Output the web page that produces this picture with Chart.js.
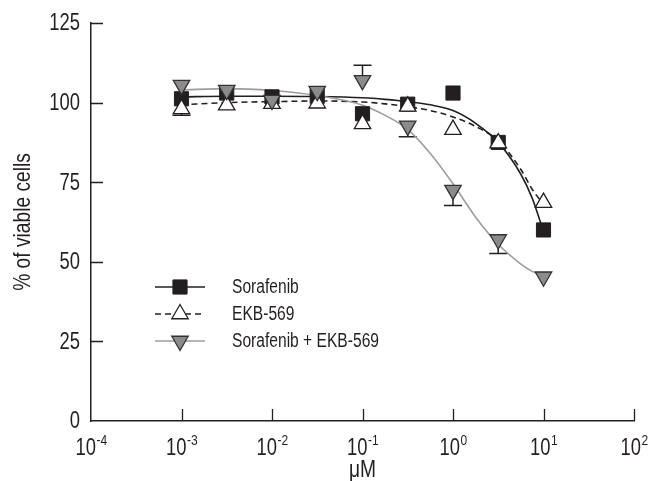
<!DOCTYPE html>
<html>
<head>
<meta charset="utf-8">
<script src="https://cdn.jsdelivr.net/npm/chart.js@4.4.0/dist/chart.umd.min.js"></script>
<style>
  html, body { margin: 0; padding: 0; background: #fff; }
  #wrap { width: 651px; height: 481px; }
</style>
</head>
<body>
<div id="wrap"><canvas id="viability" width="651" height="481"></canvas></div>
<script>
// no narrow font installed, so Liberation Sans is squeezed horizontally
const FONT = "'Liberation Sans', Arial, sans-serif";
const SQUEEZE = 0.8;
const INK = '#231f20';

// measured points (uM vs % viable)
const concentrations = [0.001, 0.00316, 0.01, 0.0316, 0.1, 0.316, 1, 3.16, 10];
const sorafenib = [101.2, 103, 101.8, 102, 96.5, 99.5, 103, 87.5, 60];
const ekb569 = [98, 99.2, 99.7, 99.8, 93.3, 98.8, 91.5, 87.3, 68.6];
const combined = [105.5, 103.9, 100.8, 103.6, 107, 92.7, 72.5, 57, 45.3];

// error bars, one-sided as drawn in the figure
const ekb569ErrDown = [2, 0, 0, 0, 0, 0, 0, 0, 0];
const combinedErrUp = [0, 0, 0, 0, 4.7, 0, 0, 0, 0];
const combinedErrDown = [0, 0, 0, 0, 0, 3.4, 4.8, 4.4, 0];

// fitted curves
const fitX = [0.001, 0.00316, 0.01, 0.0316, 0.1, 0.178, 0.316, 0.562, 1, 1.78, 3.16, 5.62, 7.5, 10];
const sorafenibFit = [101.8, 102, 102, 101.9, 101.5, 101, 100.3, 99.3, 97.5, 93.5, 87.5, 77.5, 70, 59.5];
const ekb569Fit = [99.3, 100, 100.3, 100.5, 100.2, 99.6, 98.7, 97.5, 95.5, 92.5, 88, 79, 72.8, 68];
const combinedFit = [104, 104.4, 103.8, 102.2, 99.2, 96, 91.6, 84, 74.5, 64, 55.5, 49.3, 47, 45.5];

const seriesNames = ['Sorafenib', 'EKB-569', 'Sorafenib + EKB-569'];
const xTicks = [1e-4, 1e-3, 1e-2, 1e-1, 1, 10, 100];
const xTickExponents = ['-4', '-3', '-2', '-1', '0', '1', '2'];
const yTicks = [0, 25, 50, 75, 100, 125];
const xTitle = 'μM';
const yTitle = '% of viable cells';

const pts = (xs, ys) => xs.map((x, i) => ({ x: x, y: ys[i] }));

const fitStyle = {
  showLine: true, pointRadius: 0, pointHoverRadius: 0, fill: false,
  cubicInterpolationMode: 'monotone', borderWidth: 1.6
};

const datasets = [
  Object.assign({ label: 'fit0', data: pts(fitX, sorafenibFit), borderColor: INK, order: 12 }, fitStyle),
  Object.assign({ label: 'fit1', data: pts(fitX, ekb569Fit), borderColor: INK, borderDash: [6, 4], order: 11 }, fitStyle),
  Object.assign({ label: 'fit2', data: pts(fitX, combinedFit), borderColor: '#9d9d9d', order: 10 }, fitStyle),
  {
    label: seriesNames[0], data: pts(concentrations, sorafenib), showLine: false,
    pointStyle: 'rect', pointRadius: 10, backgroundColor: INK, borderColor: INK, borderWidth: 1, order: 3
  },
  {
    label: seriesNames[1], data: pts(concentrations, ekb569), showLine: false,
    pointStyle: 'triangle', pointRadius: 9.5, backgroundColor: '#ffffff', borderColor: INK, borderWidth: 1.3,
    order: 2, errDown: ekb569ErrDown
  },
  {
    label: seriesNames[2], data: pts(concentrations, combined), showLine: false,
    pointStyle: 'triangle', pointRotation: 180, pointRadius: 9.5, backgroundColor: '#8b8b8b', borderColor: '#333333', borderWidth: 1.3,
    order: 1, errUp: combinedErrUp, errDown: combinedErrDown
  }
];

// legend rows: [fit dataset, marker dataset]
const legendRows = [[0, 3], [1, 4], [2, 5]];

function narrow(ctx, str, x, y, size, align, baseline, rot) {
  ctx.save();
  ctx.font = size + 'px ' + FONT;
  ctx.textAlign = align;
  ctx.textBaseline = baseline;
  ctx.translate(x, y);
  if (rot) ctx.rotate(rot);
  ctx.scale(SQUEEZE, 1);
  ctx.fillText(str, 0, 0);
  ctx.restore();
}

function narrowWidth(ctx, str, size) {
  ctx.save();
  ctx.font = size + 'px ' + FONT;
  const w = ctx.measureText(str).width * SQUEEZE;
  ctx.restore();
  return w;
}

const errorBars = {
  id: 'errorBars',
  beforeDatasetsDraw(chart) {
    const ctx = chart.ctx, xs = chart.scales.x, ys = chart.scales.y;
    ctx.save();
    ctx.strokeStyle = INK;
    ctx.lineWidth = 1.5;
    chart.data.datasets.forEach(ds => {
      ['errUp', 'errDown'].forEach(k => {
        if (!ds[k]) return;
        const sign = k === 'errUp' ? 1 : -1;
        ds.data.forEach((p, i) => {
          const e = ds[k][i];
          if (!e) return;
          const px = xs.getPixelForValue(p.x);
          const y0 = ys.getPixelForValue(p.y);
          const y1 = ys.getPixelForValue(p.y + sign * e);
          ctx.beginPath();
          ctx.moveTo(px, y0); ctx.lineTo(px, y1);
          ctx.moveTo(px - 9, y1); ctx.lineTo(px + 9, y1);
          ctx.stroke();
        });
      });
    });
    ctx.restore();
  }
};

const axisDecor = {
  id: 'axisDecor',
  afterDraw(chart) {
    const ctx = chart.ctx, xs = chart.scales.x, ys = chart.scales.y;
    const area = chart.chartArea;
    ctx.save();
    ctx.strokeStyle = INK;
    ctx.lineWidth = 1.3;
    ctx.beginPath();
    xTicks.slice(1).forEach(v => {
      const px = Math.round(xs.getPixelForValue(v)) + 0.5;
      ctx.moveTo(px, area.bottom); ctx.lineTo(px, area.bottom - 12);
    });
    yTicks.slice(1).forEach(v => {
      const py = Math.round(ys.getPixelForValue(v)) + 0.5;
      ctx.moveTo(area.left, py); ctx.lineTo(area.left + 12, py);
    });
    ctx.stroke();

    ctx.fillStyle = INK;

    // y tick labels
    yTicks.forEach(v => {
      narrow(ctx, String(v), area.left - 11, ys.getPixelForValue(v) + 1, 23, 'right', 'middle');
    });

    // x tick labels: 10 with superscript exponent
    xTicks.forEach((v, i) => {
      const px = xs.getPixelForValue(v);
      const wb = narrowWidth(ctx, '10', 23);
      const we = narrowWidth(ctx, xTickExponents[i], 15);
      const x0 = px - (wb + we) / 2;
      narrow(ctx, '10', x0, 455, 23, 'left', 'alphabetic');
      narrow(ctx, xTickExponents[i], x0 + wb + 0.5, 445, 15, 'left', 'alphabetic');
    });

    // axis titles
    narrow(ctx, xTitle, (area.left + area.right) / 2, 470, 24, 'center', 'middle');
    narrow(ctx, yTitle, 23, (area.top + area.bottom) / 2, 24, 'center', 'middle', -Math.PI / 2);

    // legend
    legendRows.forEach((row, i) => {
      const y = 287 + i * 27;
      const line = chart.data.datasets[row[0]];
      const mk = chart.data.datasets[row[1]];
      ctx.save();
      ctx.strokeStyle = line.borderColor;
      ctx.lineWidth = line.borderWidth;
      ctx.setLineDash(line.borderDash || []);
      ctx.beginPath();
      ctx.moveTo(155, y); ctx.lineTo(205, y);
      ctx.stroke();
      ctx.restore();
      ctx.save();
      ctx.fillStyle = mk.backgroundColor;
      ctx.strokeStyle = mk.borderColor;
      ctx.lineWidth = mk.borderWidth;
      Chart.helpers.drawPoint(ctx, {
        pointStyle: mk.pointStyle, radius: mk.pointRadius,
        rotation: mk.pointRotation || 0, borderWidth: mk.borderWidth
      }, 180, y);
      ctx.restore();
      ctx.fillStyle = INK;
      narrow(ctx, mk.label, 232, y + 1, 19.5, 'left', 'middle');
    });
    ctx.restore();
  }
};

new Chart(document.getElementById('viability'), {
  type: 'scatter',
  data: { datasets: datasets },
  options: {
    responsive: false,
    animation: false,
    layout: { padding: { top: 23, right: 17, bottom: 0, left: 0 } },
    plugins: { legend: { display: false }, tooltip: { enabled: false } },
    scales: {
      x: {
        type: 'logarithmic', min: 1e-4, max: 100, position: 'bottom',
        grid: { display: false },
        border: { display: true, color: INK, width: 1.5 },
        ticks: { display: false },
        afterBuildTicks: s => { s.ticks = xTicks.map(v => ({ value: v })); },
        afterFit: s => { s.height = 60; }
      },
      y: {
        min: 0, max: 125,
        grid: { display: false },
        border: { display: true, color: INK, width: 1.5 },
        ticks: { display: false },
        afterBuildTicks: s => { s.ticks = yTicks.map(v => ({ value: v })); },
        afterFit: s => { s.width = 91; }
      }
    }
  },
  plugins: [errorBars, axisDecor]
});
</script>
</body>
</html>
